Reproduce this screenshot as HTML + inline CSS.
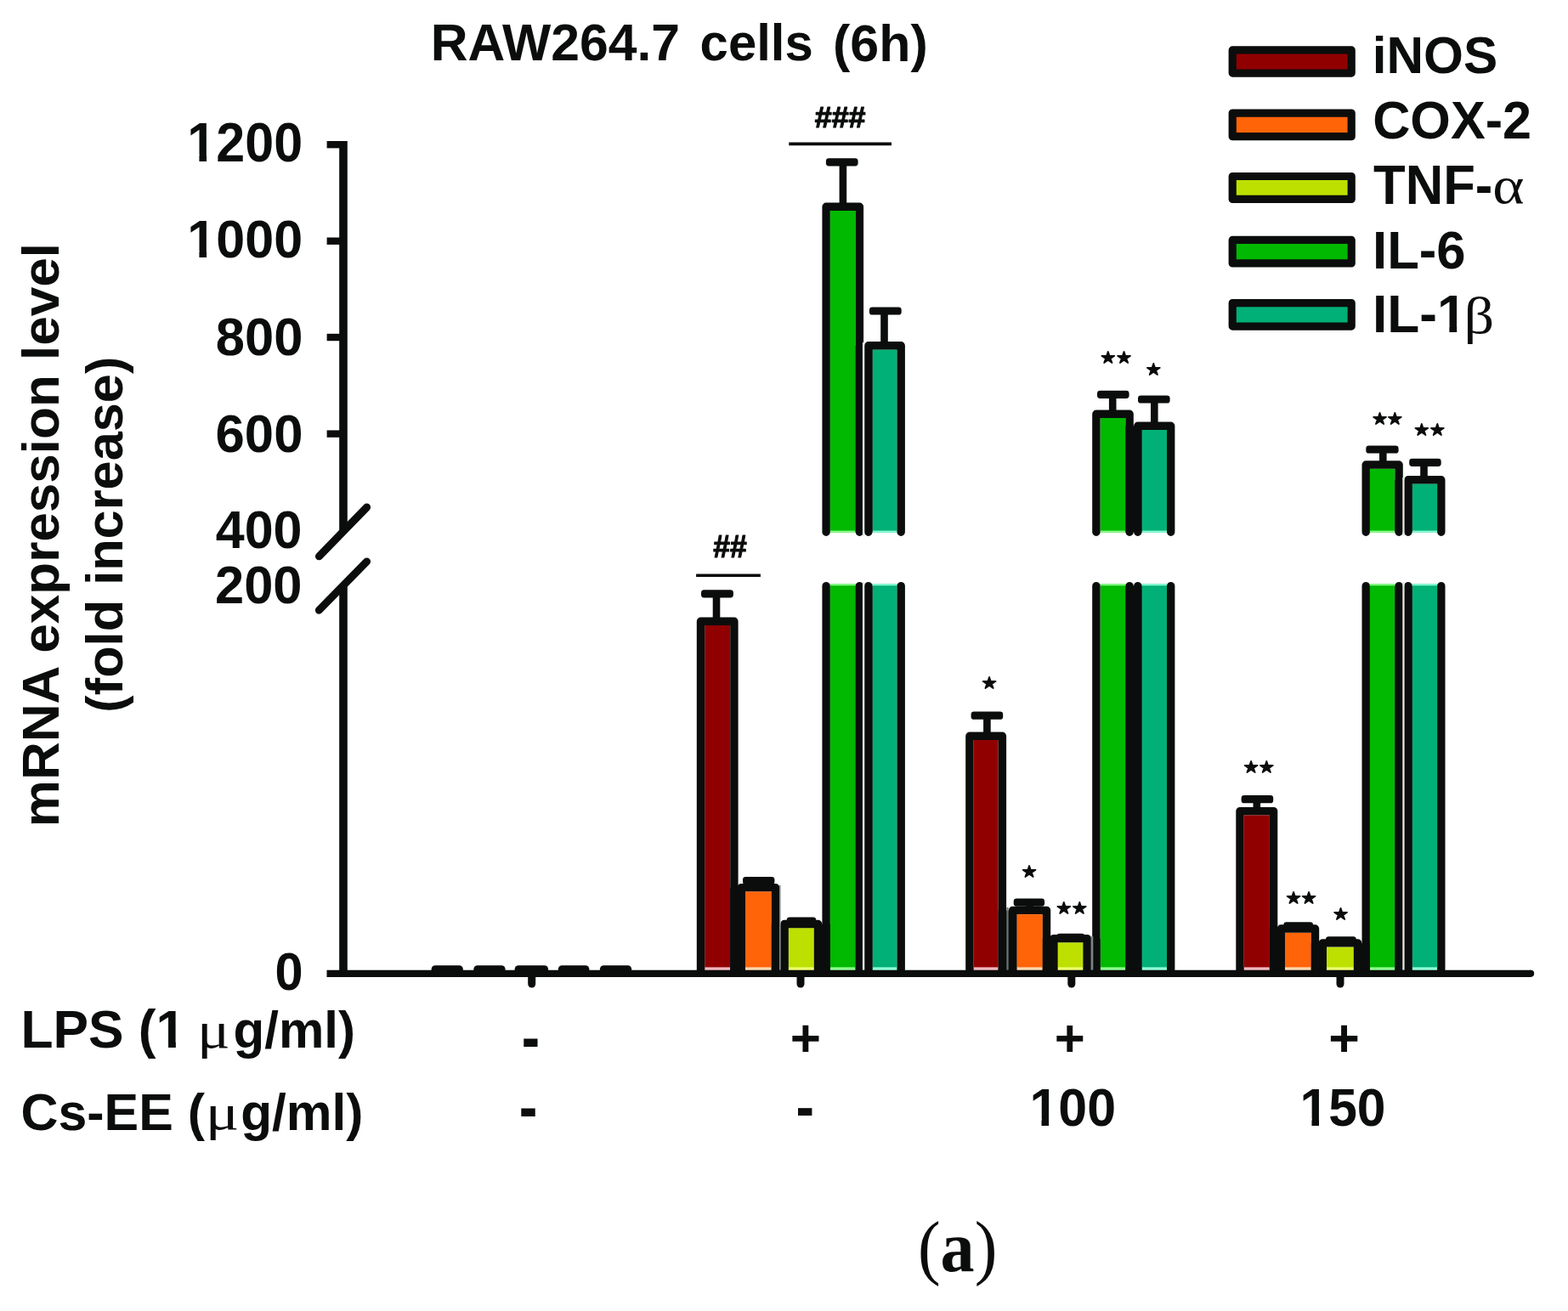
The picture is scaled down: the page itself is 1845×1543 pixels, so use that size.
<!DOCTYPE html>
<html lang="en"><head><meta charset="utf-8"><title>RAW264.7 cells (6h) - mRNA expression level</title>
<style>
html,body{margin:0;padding:0;background:#fff;}
body{width:1845px;height:1543px;overflow:hidden;}
svg{display:block;}
</style></head>
<body>
<svg width="1845" height="1543" viewBox="0 0 1845 1543">
<rect width="1845" height="1543" fill="#fff"/>
<rect x="829.2" y="736.0" width="30.0" height="406.0" fill="#910000"/>
<rect x="829.2" y="1138.4" width="30.0" height="3.6" fill="#f2b8c0"/>
<path d="M824.5,1145.8 V731.3 H863.9 V1145.8" fill="none" stroke="#0b0d0c" stroke-width="9.4" stroke-linejoin="round"/>
<rect x="876.9" y="1049.3" width="30.9" height="92.7" fill="#ff6408"/>
<rect x="876.9" y="1138.4" width="30.9" height="3.6" fill="#ffd9b0"/>
<path d="M872.2,1145.8 V1044.6 H912.5 V1145.8" fill="none" stroke="#0b0d0c" stroke-width="9.4" stroke-linejoin="round"/>
<rect x="927.6" y="1092.2" width="30.3" height="49.8" fill="#bde000"/>
<rect x="927.6" y="1138.4" width="30.3" height="3.6" fill="#eeff70"/>
<path d="M922.9,1145.8 V1087.5 H962.6 V1145.8" fill="none" stroke="#0b0d0c" stroke-width="9.4" stroke-linejoin="round"/>
<rect x="976.8" y="248.0" width="29.9" height="378.7" fill="#00b900"/>
<rect x="976.8" y="624.6" width="29.9" height="2.1" fill="#90ff90"/>
<path d="M972.1,626.2 V243.3 H1011.4 V626.2" fill="none" stroke="#0b0d0c" stroke-width="9.4" stroke-linejoin="round" stroke-linecap="round"/>
<rect x="976.8" y="687.3" width="29.9" height="454.7" fill="#00b900"/>
<rect x="976.8" y="687.3" width="29.9" height="1.9" fill="#90ff90"/>
<rect x="976.8" y="1138.4" width="29.9" height="3.6" fill="#90ff90"/>
<path d="M972.1,689.6 V1141.3 M1011.4,689.6 V1141.3" fill="none" stroke="#0b0d0c" stroke-width="9.4" stroke-linecap="round"/>
<rect x="1026.5" y="411.4" width="29.0" height="215.3" fill="#00b077"/>
<rect x="1026.5" y="624.6" width="29.0" height="2.1" fill="#90ffd8"/>
<path d="M1021.8,626.2 V406.7 H1060.2 V626.2" fill="none" stroke="#0b0d0c" stroke-width="9.4" stroke-linejoin="round" stroke-linecap="round"/>
<rect x="1026.5" y="687.3" width="29.0" height="454.7" fill="#00b077"/>
<rect x="1026.5" y="687.3" width="29.0" height="1.9" fill="#90ffd8"/>
<rect x="1026.5" y="1138.4" width="29.0" height="3.6" fill="#90ffd8"/>
<path d="M1021.8,689.6 V1141.3 M1060.2,689.6 V1141.3" fill="none" stroke="#0b0d0c" stroke-width="9.4" stroke-linecap="round"/>
<rect x="1145.6" y="871.0" width="29.1" height="271.0" fill="#910000"/>
<rect x="1145.6" y="1138.4" width="29.1" height="3.6" fill="#f2b8c0"/>
<path d="M1140.9,1145.8 V866.3 H1179.4 V1145.8" fill="none" stroke="#0b0d0c" stroke-width="9.4" stroke-linejoin="round"/>
<rect x="1196.3" y="1076.1" width="30.5" height="65.9" fill="#ff6408"/>
<rect x="1196.3" y="1138.4" width="30.5" height="3.6" fill="#ffd9b0"/>
<path d="M1191.6,1145.8 V1071.4 H1231.5 V1145.8" fill="none" stroke="#0b0d0c" stroke-width="9.4" stroke-linejoin="round"/>
<rect x="1244.4" y="1109.3" width="30.2" height="32.7" fill="#bde000"/>
<rect x="1244.4" y="1138.4" width="30.2" height="3.6" fill="#eeff70"/>
<path d="M1239.7,1145.8 V1104.6 H1279.3 V1145.8" fill="none" stroke="#0b0d0c" stroke-width="9.4" stroke-linejoin="round"/>
<rect x="1294.6" y="492.0" width="29.8" height="134.7" fill="#00b900"/>
<rect x="1294.6" y="624.6" width="29.8" height="2.1" fill="#90ff90"/>
<path d="M1289.9,626.2 V487.3 H1329.1 V626.2" fill="none" stroke="#0b0d0c" stroke-width="9.4" stroke-linejoin="round" stroke-linecap="round"/>
<rect x="1294.6" y="687.3" width="29.8" height="454.7" fill="#00b900"/>
<rect x="1294.6" y="687.3" width="29.8" height="1.9" fill="#90ff90"/>
<rect x="1294.6" y="1138.4" width="29.8" height="3.6" fill="#90ff90"/>
<path d="M1289.9,689.6 V1141.3 M1329.1,689.6 V1141.3" fill="none" stroke="#0b0d0c" stroke-width="9.4" stroke-linecap="round"/>
<rect x="1343.5" y="506.0" width="29.5" height="120.7" fill="#00b077"/>
<rect x="1343.5" y="624.6" width="29.5" height="2.1" fill="#90ffd8"/>
<path d="M1338.8,626.2 V501.3 H1377.7 V626.2" fill="none" stroke="#0b0d0c" stroke-width="9.4" stroke-linejoin="round" stroke-linecap="round"/>
<rect x="1343.5" y="687.3" width="29.5" height="454.7" fill="#00b077"/>
<rect x="1343.5" y="687.3" width="29.5" height="1.9" fill="#90ffd8"/>
<rect x="1343.5" y="1138.4" width="29.5" height="3.6" fill="#90ffd8"/>
<path d="M1338.8,689.6 V1141.3 M1377.7,689.6 V1141.3" fill="none" stroke="#0b0d0c" stroke-width="9.4" stroke-linecap="round"/>
<rect x="1463.7" y="959.3" width="30.2" height="182.7" fill="#910000"/>
<rect x="1463.7" y="1138.4" width="30.2" height="3.6" fill="#f2b8c0"/>
<path d="M1459.0,1145.8 V954.6 H1498.6 V1145.8" fill="none" stroke="#0b0d0c" stroke-width="9.4" stroke-linejoin="round"/>
<rect x="1511.9" y="1097.7" width="30.9" height="44.3" fill="#ff6408"/>
<rect x="1511.9" y="1138.4" width="30.9" height="3.6" fill="#ffd9b0"/>
<path d="M1507.2,1145.8 V1093.0 H1547.5 V1145.8" fill="none" stroke="#0b0d0c" stroke-width="9.4" stroke-linejoin="round"/>
<rect x="1561.0" y="1114.6" width="31.9" height="27.4" fill="#bde000"/>
<rect x="1561.0" y="1138.4" width="31.9" height="3.6" fill="#eeff70"/>
<path d="M1556.3,1145.8 V1109.9 H1597.6 V1145.8" fill="none" stroke="#0b0d0c" stroke-width="9.4" stroke-linejoin="round"/>
<rect x="1611.9" y="551.7" width="29.5" height="75.0" fill="#00b900"/>
<rect x="1611.9" y="624.6" width="29.5" height="2.1" fill="#90ff90"/>
<path d="M1607.2,626.2 V547.0 H1646.1 V626.2" fill="none" stroke="#0b0d0c" stroke-width="9.4" stroke-linejoin="round" stroke-linecap="round"/>
<rect x="1611.9" y="687.3" width="29.5" height="454.7" fill="#00b900"/>
<rect x="1611.9" y="687.3" width="29.5" height="1.9" fill="#90ff90"/>
<rect x="1611.9" y="1138.4" width="29.5" height="3.6" fill="#90ff90"/>
<path d="M1607.2,689.6 V1141.3 M1646.1,689.6 V1141.3" fill="none" stroke="#0b0d0c" stroke-width="9.4" stroke-linecap="round"/>
<rect x="1661.6" y="569.4" width="29.5" height="57.3" fill="#00b077"/>
<rect x="1661.6" y="624.6" width="29.5" height="2.1" fill="#90ffd8"/>
<path d="M1656.9,626.2 V564.7 H1695.8 V626.2" fill="none" stroke="#0b0d0c" stroke-width="9.4" stroke-linejoin="round" stroke-linecap="round"/>
<rect x="1661.6" y="687.3" width="29.5" height="454.7" fill="#00b077"/>
<rect x="1661.6" y="687.3" width="29.5" height="1.9" fill="#90ffd8"/>
<rect x="1661.6" y="1138.4" width="29.5" height="3.6" fill="#90ffd8"/>
<path d="M1656.9,689.6 V1141.3 M1695.8,689.6 V1141.3" fill="none" stroke="#0b0d0c" stroke-width="9.4" stroke-linecap="round"/>
<rect x="859.2" y="1044.9" width="17.7" height="100.9" fill="#0b0d0c"/>
<rect x="907.8" y="1087.8" width="19.8" height="58.0" fill="#0b0d0c"/>
<rect x="957.9" y="1087.8" width="18.9" height="58.0" fill="#0b0d0c"/>
<rect x="1006.7" y="407.0" width="19.8" height="219.2" fill="#0b0d0c"/>
<rect x="1006.7" y="689.6" width="19.8" height="456.2" fill="#0b0d0c"/>
<rect x="1174.7" y="1071.7" width="21.6" height="74.1" fill="#0b0d0c"/>
<rect x="1226.8" y="1104.9" width="17.6" height="40.9" fill="#0b0d0c"/>
<rect x="1274.6" y="1104.9" width="20.0" height="40.9" fill="#0b0d0c"/>
<rect x="1324.4" y="501.6" width="19.1" height="124.6" fill="#0b0d0c"/>
<rect x="1324.4" y="689.6" width="19.1" height="456.2" fill="#0b0d0c"/>
<rect x="1493.9" y="1093.3" width="18.0" height="52.5" fill="#0b0d0c"/>
<rect x="1542.8" y="1110.2" width="18.2" height="35.6" fill="#0b0d0c"/>
<rect x="1592.9" y="1110.2" width="19.0" height="35.6" fill="#0b0d0c"/>
<rect x="1641.4" y="565.0" width="20.2" height="61.2" fill="#0b0d0c"/>
<rect x="1641.4" y="689.6" width="20.2" height="456.2" fill="#0b0d0c"/>
<rect x="917.0" y="1042.0" width="1.6" height="99.8" fill="#8a9090"/>
<rect x="1014.9" y="403.0" width="2.4" height="227.7" fill="#e2e6e6"/>
<rect x="1014.9" y="685.1" width="2.4" height="456.7" fill="#e2e6e6"/>
<rect x="1184.4" y="1068.0" width="2.2" height="73.8" fill="#6c7676"/>
<rect x="1283.6" y="1102.0" width="2.7" height="39.8" fill="#7a8484"/>
<rect x="1650.3" y="562.0" width="2.3" height="68.7" fill="#e2e6e6"/>
<rect x="1650.3" y="685.1" width="2.3" height="456.7" fill="#e2e6e6"/>
<rect x="838.7" y="698.9" width="8.6" height="28.7" fill="#0b0d0c"/>
<rect x="825.0" y="694.3" width="37.9" height="9.2" rx="3.4" ry="3.4" fill="#0b0d0c"/>
<rect x="874.0" y="1031.9" width="37.4" height="9.2" rx="3.4" ry="3.4" fill="#0b0d0c"/>
<rect x="925.7" y="1079.4" width="34.5" height="9.2" rx="3.4" ry="3.4" fill="#0b0d0c"/>
<rect x="987.6" y="190.8" width="8.6" height="48.8" fill="#0b0d0c"/>
<rect x="971.9" y="186.2" width="37.7" height="9.2" rx="3.4" ry="3.4" fill="#0b0d0c"/>
<rect x="1036.2" y="366.0" width="8.6" height="37.0" fill="#0b0d0c"/>
<rect x="1022.9" y="361.4" width="37.8" height="9.2" rx="3.4" ry="3.4" fill="#0b0d0c"/>
<rect x="1157.1" y="842.2" width="8.6" height="20.4" fill="#0b0d0c"/>
<rect x="1142.6" y="837.6" width="37.6" height="9.2" rx="3.4" ry="3.4" fill="#0b0d0c"/>
<rect x="1207.2" y="1062.1" width="8.6" height="5.6" fill="#0b0d0c"/>
<rect x="1192.7" y="1057.5" width="36.4" height="9.2" rx="3.4" ry="3.4" fill="#0b0d0c"/>
<rect x="1243.4" y="1098.8" width="32.9" height="9.2" rx="3.4" ry="3.4" fill="#0b0d0c"/>
<rect x="1304.9" y="464.3" width="8.6" height="19.3" fill="#0b0d0c"/>
<rect x="1291.0" y="459.7" width="37.6" height="9.2" rx="3.4" ry="3.4" fill="#0b0d0c"/>
<rect x="1354.0" y="470.0" width="8.6" height="27.6" fill="#0b0d0c"/>
<rect x="1339.0" y="465.4" width="37.6" height="9.2" rx="3.4" ry="3.4" fill="#0b0d0c"/>
<rect x="1474.5" y="940.7" width="8.6" height="10.2" fill="#0b0d0c"/>
<rect x="1460.6" y="936.1" width="37.6" height="9.2" rx="3.4" ry="3.4" fill="#0b0d0c"/>
<rect x="1510.3" y="1085.3" width="34.8" height="9.2" rx="3.4" ry="3.4" fill="#0b0d0c"/>
<rect x="1560.0" y="1102.2" width="35.8" height="9.2" rx="3.4" ry="3.4" fill="#0b0d0c"/>
<rect x="1623.0" y="529.0" width="8.6" height="14.3" fill="#0b0d0c"/>
<rect x="1607.3" y="524.4" width="38.3" height="9.2" rx="3.4" ry="3.4" fill="#0b0d0c"/>
<rect x="1671.2" y="544.3" width="8.6" height="16.7" fill="#0b0d0c"/>
<rect x="1658.2" y="539.7" width="37.5" height="9.2" rx="3.4" ry="3.4" fill="#0b0d0c"/>
<rect x="507.6" y="1136.3" width="37.3" height="11.5" rx="4.5" ry="4.5" fill="#0b0d0c"/>
<rect x="557.3" y="1136.3" width="37.3" height="11.5" rx="4.5" ry="4.5" fill="#0b0d0c"/>
<rect x="605.6" y="1136.3" width="39.5" height="11.5" rx="4.5" ry="4.5" fill="#0b0d0c"/>
<rect x="656.8" y="1136.3" width="36.6" height="11.5" rx="4.5" ry="4.5" fill="#0b0d0c"/>
<rect x="705.9" y="1136.3" width="37.3" height="11.5" rx="4.5" ry="4.5" fill="#0b0d0c"/>
<path d="M399.2,166 H408.8 V620.7 L399.2,630.5 Z" fill="#0b0d0c"/>
<path d="M384.6,170.2 H404.0" stroke="#0b0d0c" stroke-width="8.4"/>
<path d="M384.6,283.7 H404.0" stroke="#0b0d0c" stroke-width="8.4"/>
<path d="M384.6,397.0 H404.0" stroke="#0b0d0c" stroke-width="8.4"/>
<path d="M384.6,510.6 H404.0" stroke="#0b0d0c" stroke-width="8.4"/>
<path d="M399.2,693.7 L408.8,683.9 V1145.8 H399.2 Z" fill="#0b0d0c"/>
<path d="M375.4,654.8 L431.6,597 M375.4,718.2 L431.6,660.9" stroke="#0b0d0c" stroke-width="9" stroke-linecap="round"/>
<path d="M384.5,1145.8 H1801" stroke="#0b0d0c" stroke-width="8.2" stroke-linecap="butt"/>
<path d="M1801,1145.8 H1801.1" stroke="#0b0d0c" stroke-width="8.2" stroke-linecap="round"/>
<path d="M625.7,1147.8 V1158" stroke="#0b0d0c" stroke-width="9" stroke-linecap="round"/>
<path d="M942.0,1147.8 V1158" stroke="#0b0d0c" stroke-width="9" stroke-linecap="round"/>
<path d="M1260.8,1147.8 V1158" stroke="#0b0d0c" stroke-width="9" stroke-linecap="round"/>
<path d="M1577.0,1147.8 V1158" stroke="#0b0d0c" stroke-width="9" stroke-linecap="round"/>
<rect x="1450.2" y="58.9" width="140.0" height="27.2" fill="#910000" stroke="#0b0d0c" stroke-width="9.2" stroke-linejoin="round"/>
<rect x="1450.2" y="133.1" width="140.0" height="27.6" fill="#ff6408" stroke="#0b0d0c" stroke-width="9.2" stroke-linejoin="round"/>
<rect x="1450.2" y="207.5" width="140.0" height="26.9" fill="#bde000" stroke="#0b0d0c" stroke-width="9.2" stroke-linejoin="round"/>
<rect x="1450.2" y="282.4" width="140.0" height="27.5" fill="#00b900" stroke="#0b0d0c" stroke-width="9.2" stroke-linejoin="round"/>
<rect x="1450.2" y="356.6" width="140.0" height="27.5" fill="#00b077" stroke="#0b0d0c" stroke-width="9.2" stroke-linejoin="round"/>
<path d="M928.3,169.4 H1049" stroke="#0b0d0c" stroke-width="3.6"/>
<path d="M819.1,677.2 H894.9" stroke="#0b0d0c" stroke-width="3.6"/>
<text transform="translate(506.64,71.10) scale(0.9787,0.9955)" style="font-family:'Liberation Sans',Arial,sans-serif;font-weight:bold" font-size="62" fill="#0b0d0c">RAW264.7</text>
<text transform="translate(823.58,71.21) scale(0.9665,0.9758)" style="font-family:'Liberation Sans',Arial,sans-serif;font-weight:bold" font-size="62" fill="#0b0d0c">cells</text>
<text transform="translate(980.05,71.59) scale(0.9833,0.9931)" style="font-family:'Liberation Sans',Arial,sans-serif;font-weight:bold" font-size="62" fill="#0b0d0c">(6h)</text>
<g transform="translate(220.31,190.08) scale(0.9847,1.0409)"><text style="font-family:'Liberation Sans',Arial,sans-serif;font-weight:bold" font-size="62" fill="#0b0d0c">1200</text><rect x="2.48" y="-7.75" width="11.85" height="9.61" fill="#fff"/><rect x="23.11" y="-7.75" width="11.61" height="9.61" fill="#fff"/></g>
<g transform="translate(220.31,303.19) scale(0.9847,1.0227)"><text style="font-family:'Liberation Sans',Arial,sans-serif;font-weight:bold" font-size="62" fill="#0b0d0c">1000</text><rect x="2.48" y="-7.75" width="11.85" height="9.61" fill="#fff"/><rect x="23.11" y="-7.75" width="11.61" height="9.61" fill="#fff"/></g>
<text transform="translate(253.82,417.89) scale(0.9924,1.0136)" style="font-family:'Liberation Sans',Arial,sans-serif;font-weight:bold" font-size="62" fill="#0b0d0c">800</text>
<text transform="translate(253.56,531.99) scale(0.9949,1.0295)" style="font-family:'Liberation Sans',Arial,sans-serif;font-weight:bold" font-size="62" fill="#0b0d0c">600</text>
<text transform="translate(253.72,645.49) scale(0.9845,1.0227)" style="font-family:'Liberation Sans',Arial,sans-serif;font-weight:bold" font-size="62" fill="#0b0d0c">400</text>
<text transform="translate(252.97,710.00) scale(0.9919,1.0068)" style="font-family:'Liberation Sans',Arial,sans-serif;font-weight:bold" font-size="62" fill="#0b0d0c">200</text>
<text transform="translate(323.40,1165.09) scale(0.9593,1.0295)" style="font-family:'Liberation Sans',Arial,sans-serif;font-weight:bold" font-size="62" fill="#0b0d0c">0</text>
<text transform="translate(68.64,973.20) rotate(-90) scale(1.0006,0.9741)" style="font-family:'Liberation Sans',Arial,sans-serif;font-weight:bold" font-size="62" fill="#0b0d0c">mRNA expression level</text>
<text transform="translate(143.89,838.67) rotate(-90) scale(0.9889,0.9931)" style="font-family:'Liberation Sans',Arial,sans-serif;font-weight:bold" font-size="62" fill="#0b0d0c">(fold increase)</text>
<g transform="translate(24.43,1233.43) scale(1.0048,1.0207)"><text style="font-family:'Liberation Sans',Arial,sans-serif;font-weight:bold" font-size="62" fill="#0b0d0c">LPS (1</text><rect x="160.93" y="-7.75" width="11.85" height="9.61" fill="#fff"/><rect x="181.56" y="-7.75" width="11.61" height="9.61" fill="#fff"/></g>
<text transform="translate(232.09,1232.52) scale(1.1612,0.9868)" style="font-family:'Liberation Serif','Times New Roman',serif;font-weight:normal" font-size="62" fill="#0b0d0c">μ</text>
<text transform="translate(274.58,1233.49) scale(0.9684,0.9820)" style="font-family:'Liberation Sans',Arial,sans-serif;font-weight:bold" font-size="62" fill="#0b0d0c">g/ml)</text>
<text transform="translate(24.44,1329.73) scale(0.9828,0.9897)" style="font-family:'Liberation Sans',Arial,sans-serif;font-weight:bold" font-size="62" fill="#0b0d0c">Cs-EE (</text>
<text transform="translate(241.64,1329.37) scale(1.1922,0.9605)" style="font-family:'Liberation Serif','Times New Roman',serif;font-weight:normal" font-size="62" fill="#0b0d0c">μ</text>
<text transform="translate(283.16,1329.95) scale(0.9747,0.9923)" style="font-family:'Liberation Sans',Arial,sans-serif;font-weight:bold" font-size="62" fill="#0b0d0c">g/ml)</text>
<text transform="translate(613.71,1248.20) scale(1.0349,1.2800)" style="font-family:'Liberation Sans',Arial,sans-serif;font-weight:bold" font-size="62" fill="#0b0d0c">-</text>
<text transform="translate(610.78,1329.80) scale(1.0476,1.2800)" style="font-family:'Liberation Sans',Arial,sans-serif;font-weight:bold" font-size="62" fill="#0b0d0c">-</text>
<text transform="translate(929.70,1242.57) scale(1.0016,0.9937)" style="font-family:'Liberation Sans',Arial,sans-serif;font-weight:bold" font-size="62" fill="#0b0d0c">+</text>
<text transform="translate(936.40,1328.23) scale(1.0413,1.1867)" style="font-family:'Liberation Sans',Arial,sans-serif;font-weight:bold" font-size="62" fill="#0b0d0c">-</text>
<text transform="translate(1240.81,1243.04) scale(0.9952,0.9873)" style="font-family:'Liberation Sans',Arial,sans-serif;font-weight:bold" font-size="62" fill="#0b0d0c">+</text>
<g transform="translate(1211.42,1324.69) scale(0.9824,1.0273)"><text style="font-family:'Liberation Sans',Arial,sans-serif;font-weight:bold" font-size="62" fill="#0b0d0c">100</text><rect x="2.48" y="-7.75" width="11.85" height="9.61" fill="#fff"/><rect x="23.11" y="-7.75" width="11.61" height="9.61" fill="#fff"/></g>
<text transform="translate(1563.17,1243.04) scale(1.0112,0.9873)" style="font-family:'Liberation Sans',Arial,sans-serif;font-weight:bold" font-size="62" fill="#0b0d0c">+</text>
<g transform="translate(1529.45,1324.69) scale(0.9772,1.0273)"><text style="font-family:'Liberation Sans',Arial,sans-serif;font-weight:bold" font-size="62" fill="#0b0d0c">150</text><rect x="2.48" y="-7.75" width="11.85" height="9.61" fill="#fff"/><rect x="23.11" y="-7.75" width="11.61" height="9.61" fill="#fff"/></g>
<text transform="translate(1614.66,86.41) scale(0.9731,0.9868)" style="font-family:'Liberation Sans',Arial,sans-serif;font-weight:bold" font-size="62" fill="#0b0d0c">iNOS</text>
<text transform="translate(1615.13,163.19) scale(0.9870,1.0250)" style="font-family:'Liberation Sans',Arial,sans-serif;font-weight:bold" font-size="62" fill="#0b0d0c">COX-2</text>
<text transform="translate(1616.05,239.80) scale(0.9935,1.0326)" style="font-family:'Liberation Sans',Arial,sans-serif;font-weight:bold" font-size="62" fill="#0b0d0c">TNF-</text>
<text transform="translate(1756.22,239.31) scale(1.1478,0.9733)" style="font-family:'Liberation Serif','Times New Roman',serif;font-weight:normal" font-size="62" fill="#0b0d0c">α</text>
<text transform="translate(1615.08,315.50) scale(0.9937,1.0091)" style="font-family:'Liberation Sans',Arial,sans-serif;font-weight:bold" font-size="62" fill="#0b0d0c">IL-6</text>
<g transform="translate(1615.04,390.90) scale(1.0032,1.0129)"><text style="font-family:'Liberation Sans',Arial,sans-serif;font-weight:bold" font-size="62" fill="#0b0d0c">IL-1</text><rect x="78.22" y="-7.75" width="11.85" height="9.61" fill="#fff"/><rect x="98.86" y="-7.75" width="11.61" height="9.61" fill="#fff"/></g>
<text transform="translate(1722.57,391.54) scale(1.1320,0.9709)" style="font-family:'Liberation Serif','Times New Roman',serif;font-weight:normal" font-size="62" fill="#0b0d0c">β</text>
<text transform="translate(958.75,149.62) scale(1.0536,1.0539)" style="font-family:'Liberation Sans',Arial,sans-serif;font-weight:bold" font-size="34" fill="#0b0d0c" stroke="#0b0d0c" stroke-width="1.1" stroke-linejoin="round">###</text>
<text transform="translate(839.25,656.31) scale(1.0436,1.0747)" style="font-family:'Liberation Sans',Arial,sans-serif;font-weight:bold" font-size="34" fill="#0b0d0c" stroke="#0b0d0c" stroke-width="1.1" stroke-linejoin="round">##</text>
<text transform="translate(1155.31,810.04) scale(1.0927,1.0105)" style="font-family:'DejaVu Sans',sans-serif;font-weight:normal" font-size="18" fill="#0b0d0c" stroke="#0b0d0c" stroke-width="1.6" stroke-linejoin="round">★</text>
<text transform="translate(1202.16,1032.44) scale(1.0927,1.0105)" style="font-family:'DejaVu Sans',sans-serif;font-weight:normal" font-size="18" fill="#0b0d0c" stroke="#0b0d0c" stroke-width="1.6" stroke-linejoin="round">★</text>
<text transform="translate(1242.91,1074.89) scale(1.0927,1.0105)" style="font-family:'DejaVu Sans',sans-serif;font-weight:normal" font-size="18" fill="#0b0d0c" stroke="#0b0d0c" stroke-width="1.6" stroke-linejoin="round">★</text>
<text transform="translate(1261.51,1074.89) scale(1.0927,1.0105)" style="font-family:'DejaVu Sans',sans-serif;font-weight:normal" font-size="18" fill="#0b0d0c" stroke="#0b0d0c" stroke-width="1.6" stroke-linejoin="round">★</text>
<text transform="translate(1295.11,426.94) scale(1.0927,1.0105)" style="font-family:'DejaVu Sans',sans-serif;font-weight:normal" font-size="18" fill="#0b0d0c" stroke="#0b0d0c" stroke-width="1.6" stroke-linejoin="round">★</text>
<text transform="translate(1313.71,426.94) scale(1.0927,1.0105)" style="font-family:'DejaVu Sans',sans-serif;font-weight:normal" font-size="18" fill="#0b0d0c" stroke="#0b0d0c" stroke-width="1.6" stroke-linejoin="round">★</text>
<text transform="translate(1348.51,441.39) scale(1.0927,1.0105)" style="font-family:'DejaVu Sans',sans-serif;font-weight:normal" font-size="18" fill="#0b0d0c" stroke="#0b0d0c" stroke-width="1.6" stroke-linejoin="round">★</text>
<text transform="translate(1463.21,908.79) scale(1.0927,1.0105)" style="font-family:'DejaVu Sans',sans-serif;font-weight:normal" font-size="18" fill="#0b0d0c" stroke="#0b0d0c" stroke-width="1.6" stroke-linejoin="round">★</text>
<text transform="translate(1481.51,908.79) scale(1.0927,1.0105)" style="font-family:'DejaVu Sans',sans-serif;font-weight:normal" font-size="18" fill="#0b0d0c" stroke="#0b0d0c" stroke-width="1.6" stroke-linejoin="round">★</text>
<text transform="translate(1513.31,1063.34) scale(1.0927,1.0105)" style="font-family:'DejaVu Sans',sans-serif;font-weight:normal" font-size="18" fill="#0b0d0c" stroke="#0b0d0c" stroke-width="1.6" stroke-linejoin="round">★</text>
<text transform="translate(1531.31,1063.34) scale(1.0927,1.0105)" style="font-family:'DejaVu Sans',sans-serif;font-weight:normal" font-size="18" fill="#0b0d0c" stroke="#0b0d0c" stroke-width="1.6" stroke-linejoin="round">★</text>
<text transform="translate(1568.86,1082.39) scale(1.0927,1.0105)" style="font-family:'DejaVu Sans',sans-serif;font-weight:normal" font-size="18" fill="#0b0d0c" stroke="#0b0d0c" stroke-width="1.6" stroke-linejoin="round">★</text>
<text transform="translate(1614.81,499.19) scale(1.0927,1.0105)" style="font-family:'DejaVu Sans',sans-serif;font-weight:normal" font-size="18" fill="#0b0d0c" stroke="#0b0d0c" stroke-width="1.6" stroke-linejoin="round">★</text>
<text transform="translate(1632.41,499.19) scale(1.0927,1.0105)" style="font-family:'DejaVu Sans',sans-serif;font-weight:normal" font-size="18" fill="#0b0d0c" stroke="#0b0d0c" stroke-width="1.6" stroke-linejoin="round">★</text>
<text transform="translate(1664.11,511.79) scale(1.0927,1.0105)" style="font-family:'DejaVu Sans',sans-serif;font-weight:normal" font-size="18" fill="#0b0d0c" stroke="#0b0d0c" stroke-width="1.6" stroke-linejoin="round">★</text>
<text transform="translate(1682.51,511.79) scale(1.0927,1.0105)" style="font-family:'DejaVu Sans',sans-serif;font-weight:normal" font-size="18" fill="#0b0d0c" stroke="#0b0d0c" stroke-width="1.6" stroke-linejoin="round">★</text>
<text transform="translate(1079.89,1496.30) scale(0.9105,0.9705)" style="font-family:'Liberation Serif','Times New Roman',serif" font-size="88" fill="#0b0d0c">(<tspan font-weight="bold">a</tspan>)</text>
</svg>
</body></html>
